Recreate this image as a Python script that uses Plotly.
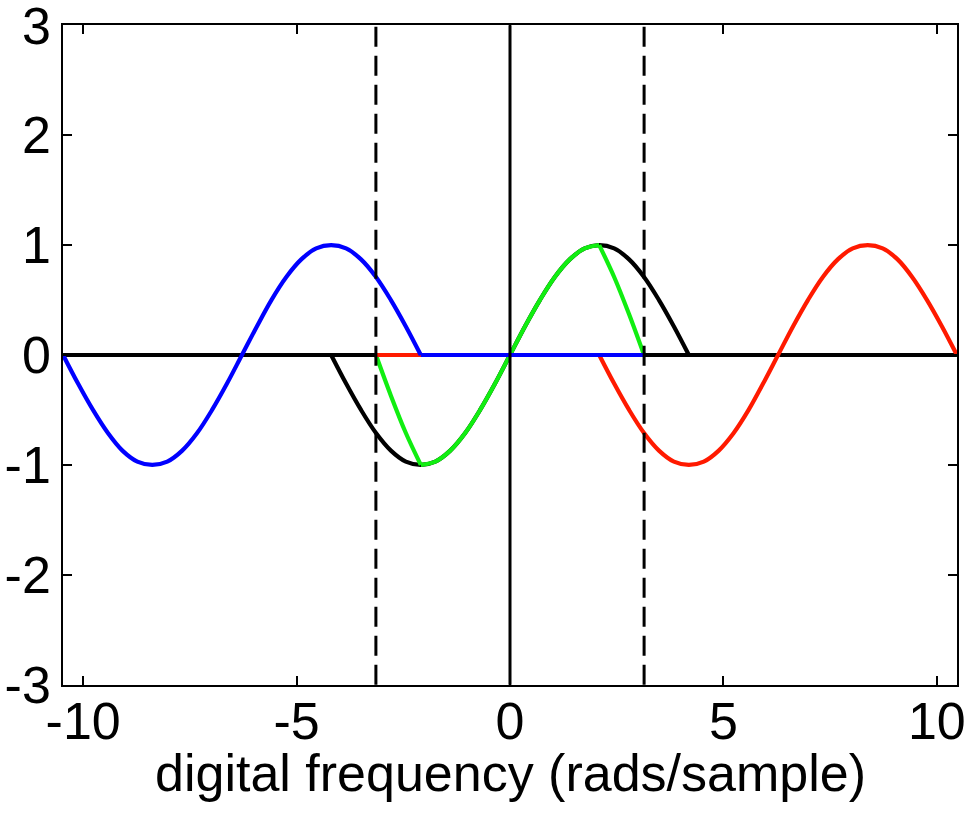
import plotly.graph_objects as go

# ---- data ----
# black: original spectrum
black_x = [-4.19, -3.84, -3.49, -3.14, -2.79, -2.44, -2.09, -1.75, -1.40, -1.05, -0.70, -0.35, 0.0,
           0.35, 0.70, 1.05, 1.40, 1.75, 2.09, 2.44, 2.79, 3.14, 3.49, 3.84, 4.19]
black_y = [0.0, -0.26, -0.50, -0.71, -0.87, -0.97, -1.0, -0.97, -0.87, -0.71, -0.50, -0.26, 0.0,
           0.26, 0.50, 0.71, 0.87, 0.97, 1.0, 0.97, 0.87, 0.71, 0.50, 0.26, 0.0]

# red: copy shifted right
red_x = [-3.14, 2.09, None,
         2.09, 2.44, 2.79, 3.14, 3.49, 3.84, 4.19, 4.54, 4.89, 5.24, 5.59, 5.93, 6.28,
         6.63, 6.98, 7.33, 7.68, 8.03, 8.38, 8.73, 9.08, 9.42, 9.77, 10.12, 10.47]
red_y = [0.0, 0.0, None,
         0.0, -0.26, -0.50, -0.71, -0.87, -0.97, -1.0, -0.97, -0.87, -0.71, -0.50, -0.26, 0.0,
         0.26, 0.50, 0.71, 0.87, 0.97, 1.0, 0.97, 0.87, 0.71, 0.50, 0.26, 0.0]

# blue: copy shifted left
blue_x = [-10.47, -10.12, -9.77, -9.42, -9.08, -8.73, -8.38, -8.03, -7.68, -7.33, -6.98, -6.63, -6.28,
          -5.93, -5.59, -5.24, -4.89, -4.54, -4.19, -3.84, -3.49, -3.14, -2.79, -2.44, -2.09, None,
          -2.09, 3.14]
blue_y = [0.0, -0.26, -0.50, -0.71, -0.87, -0.97, -1.0, -0.97, -0.87, -0.71, -0.50, -0.26, 0.0,
          0.26, 0.50, 0.71, 0.87, 0.97, 1.0, 0.97, 0.87, 0.71, 0.50, 0.26, 0.0, None,
          0.0, 0.0]

# green: aliased sum
green_x = [-10.47, -3.14, None,
           -3.14, -2.79, -2.44, -2.09, None,
           -2.09, -1.75, -1.40, -1.05, -0.70, -0.35, 0.0, 0.35, 0.70, 1.05, 1.40, 1.75, 2.09, None,
           2.09, 2.44, 2.79, 3.14, None,
           3.14, 10.47]
green_y = [0.0, 0.0, None,
           0.0, -0.37, -0.71, -1.0, None,
           -1.0, -0.97, -0.87, -0.71, -0.50, -0.26, 0.0, 0.26, 0.50, 0.71, 0.87, 0.97, 1.0, None,
           1.0, 0.71, 0.37, 0.0, None,
           0.0, 0.0]

axis_x = [-10.47, 10.47]
axis_y = [0.0, 0.0]
nyquist = [-3.14159, 3.14159]
y_span = [-3, 3]

x_ticks = [-10, -5, 0, 5, 10]
x_ticklabels = ["-10", "-5", "0", "5", "10"]
y_ticks = [-3, -2, -1, 0, 1, 2, 3]
y_ticklabels = ["-3", "-2", "-1", "0", "1", "2", "3"]
x_title = "digital frequency (rads/sample)"

x_range = [-10.472, 10.472]
y_range = [-3.003, 3.003]

LW = 4.2
fig = go.Figure()
fig.add_trace(go.Scatter(x=black_x, y=black_y, mode="lines", line=dict(color="black", width=LW, shape="spline")))
fig.add_trace(go.Scatter(x=green_x, y=green_y, mode="lines", line=dict(color="#11ee11", width=LW, shape="spline")))
fig.add_trace(go.Scatter(x=axis_x, y=axis_y, mode="lines", line=dict(color="black", width=LW)))
fig.add_trace(go.Scatter(x=red_x, y=red_y, mode="lines", line=dict(color="#ff1a00", width=LW, shape="spline")))
fig.add_trace(go.Scatter(x=blue_x, y=blue_y, mode="lines", line=dict(color="#0000ff", width=LW, shape="spline")))
fig.add_trace(go.Scatter(x=[0, 0], y=y_span, mode="lines", line=dict(color="black", width=3)))
for xv in nyquist:
    fig.add_trace(go.Scatter(x=[xv, xv], y=y_span, mode="lines",
                             line=dict(color="black", width=3, dash="20px,9px")))

FONT = "Liberation Sans, Arial, Helvetica, sans-serif"
fig.update_layout(
    width=965, height=824,
    margin=dict(l=63, r=8, t=25, b=139),
    paper_bgcolor="white", plot_bgcolor="white",
    showlegend=False,
    font=dict(family=FONT, size=52, color="black"),
    xaxis=dict(range=x_range, tickvals=x_ticks, ticktext=x_ticklabels, automargin=False,
               showgrid=False, zeroline=False, showline=True, linecolor="black", linewidth=1.5,
               mirror="allticks", ticks="inside", ticklen=9, tickwidth=1.5, tickcolor="black",
               tickfont=dict(size=52), ticklabelstandoff=-10, ticklabeloverflow="allow"),
    yaxis=dict(range=y_range, tickvals=y_ticks, ticktext=y_ticklabels, automargin=False,
               showgrid=False, zeroline=False, showline=True, linecolor="black", linewidth=1.5,
               mirror="allticks", ticks="inside", ticklen=9, tickwidth=1.5, tickcolor="black",
               tickfont=dict(size=52), ticklabeloverflow="allow"),
    annotations=[dict(text=x_title, xref="paper", yref="paper", x=0.5, y=-0.133,
                      xanchor="center", yanchor="middle", showarrow=False,
                      font=dict(size=52, family=FONT, color="black"))],
)
fig.write_html("out.html")
